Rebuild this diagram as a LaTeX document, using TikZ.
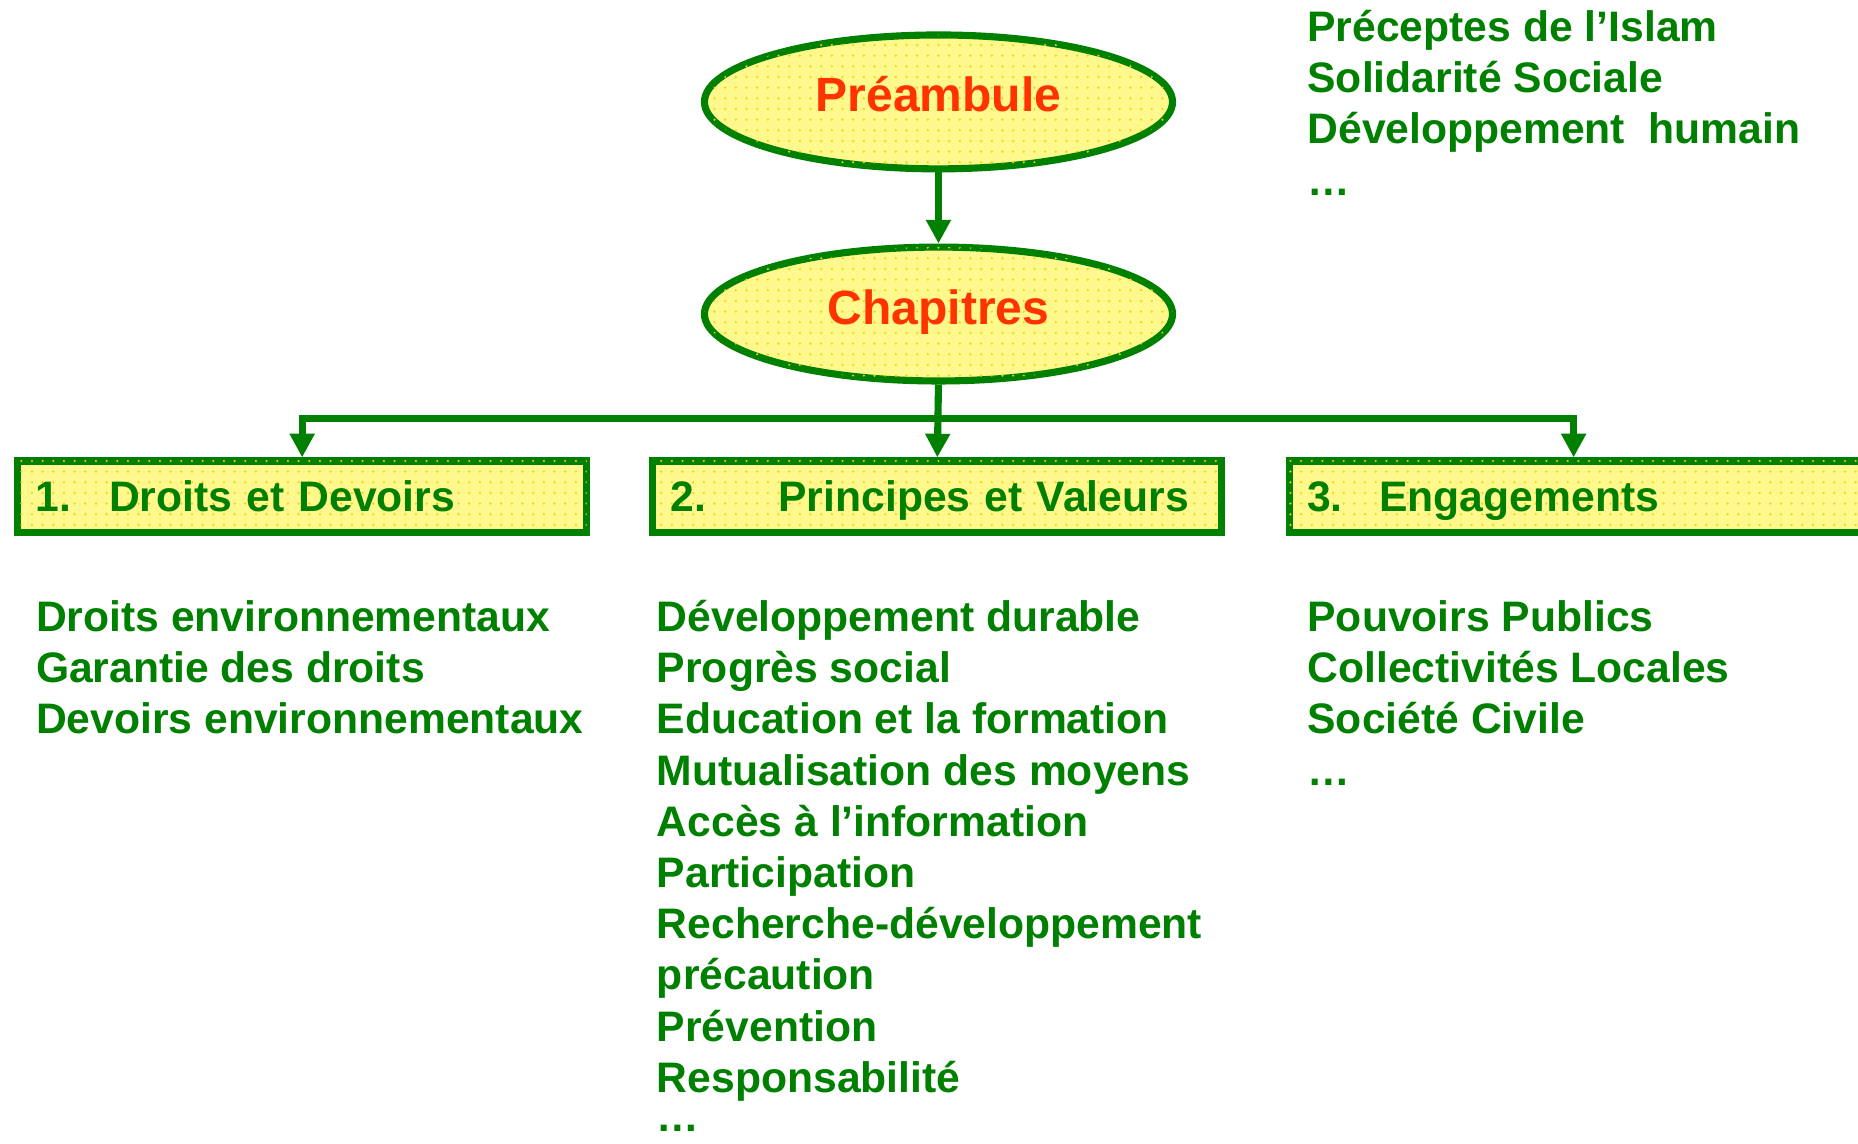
\documentclass[tikz,border=0pt]{standalone}
\usepackage{fontspec}
\setmainfont{Liberation Sans}
\usetikzlibrary{shapes.geometric,arrows.meta,patterns.meta}
\definecolor{dgreen}{RGB}{0,128,0}
\definecolor{ored}{RGB}{255,51,0}
\definecolor{lyel}{RGB}{255,248,140}
\definecolor{dotyel}{RGB}{240,210,0}
\begin{document}
\begin{tikzpicture}[x=0.5pt,y=-0.5pt,
  dotfill/.style={fill=lyel, postaction={pattern={Dots[distance=4.5pt,radius=0.5pt]}, pattern color=dotyel}},
  oval/.style={ellipse, draw=dgreen, line width=3pt, dotfill, minimum width=197.5pt, minimum height=56.5pt,
    inner sep=0pt, text=ored, font=\fontsize{20.25pt}{24pt}\selectfont\bfseries, text height=14.6pt, text depth=6.1pt},
  chapbox/.style={rectangle, draw=dgreen, line width=3pt, dotfill, minimum height=30pt, inner xsep=7.5pt, inner ysep=0pt,
    align=left, text=dgreen, font=\fontsize{18pt}{21.6pt}\selectfont\bfseries, text height=12.9pt, text depth=0pt},
  lst/.style={anchor=base west, inner sep=0pt, text=dgreen, font=\fontsize{18pt}{21.6pt}\selectfont\bfseries},
  arr/.style={draw=dgreen, line width=3pt, -{Triangle[length=10pt,width=10pt]}}]
\path[use as bounding box, clip] (0,0) rectangle (1568,965);

\node[oval] (pre) at (792,86) {Préambule};
\node[oval] (chap) at (792,265) {Chapitres};

\node[chapbox, text width=225pt] (b1) at (255,419) {\makebox[31pt][l]{1.}Droits et Devoirs};
\node[chapbox, text width=225pt] (b2) at (791,419) {\makebox[45.5pt][l]{2.}Principes et Valeurs};
\node[chapbox, text width=250pt, anchor=west] (b3) at (1085,419) {\makebox[30.5pt][l]{3.}Engagements};

\coordinate (bar) at (792,353);
\draw[arr] (pre.south) -- (chap.north);
\draw[arr] (chap.south) -- (b2.north);
\draw[arr] (bar) -| (b1.north);
\draw[arr] (bar) -| ([xshift=121.5pt]b3.north west);

\foreach \t [count=\i] in {Préceptes de l’Islam, Solidarité Sociale, Développement\ \ humain, …}
  \node[lst] (tr\i) at (1103,{35+43.2*(\i-1)}) {\t};
\foreach \t [count=\i] in {Droits environnementaux, Garantie des droits, Devoirs environnementaux}
  \node[lst] (dl\i) at (30,{533+43.2*(\i-1)}) {\t};
\foreach \t [count=\i] in {Développement durable, Progrès social, Education et la formation, Mutualisation des moyens, Accès à l’information, Participation, Recherche-développement, précaution, Prévention, Responsabilité}
  \node[lst] (pl\i) at (554,{533+43.2*(\i-1)}) {\t};
\node[lst] (pl11) at (554,955) {…};
\foreach \t [count=\i] in {Pouvoirs Publics, Collectivités Locales, Société Civile, …}
  \node[lst] (el\i) at (1103,{533+43.2*(\i-1)}) {\t};
\end{tikzpicture}
\end{document}
